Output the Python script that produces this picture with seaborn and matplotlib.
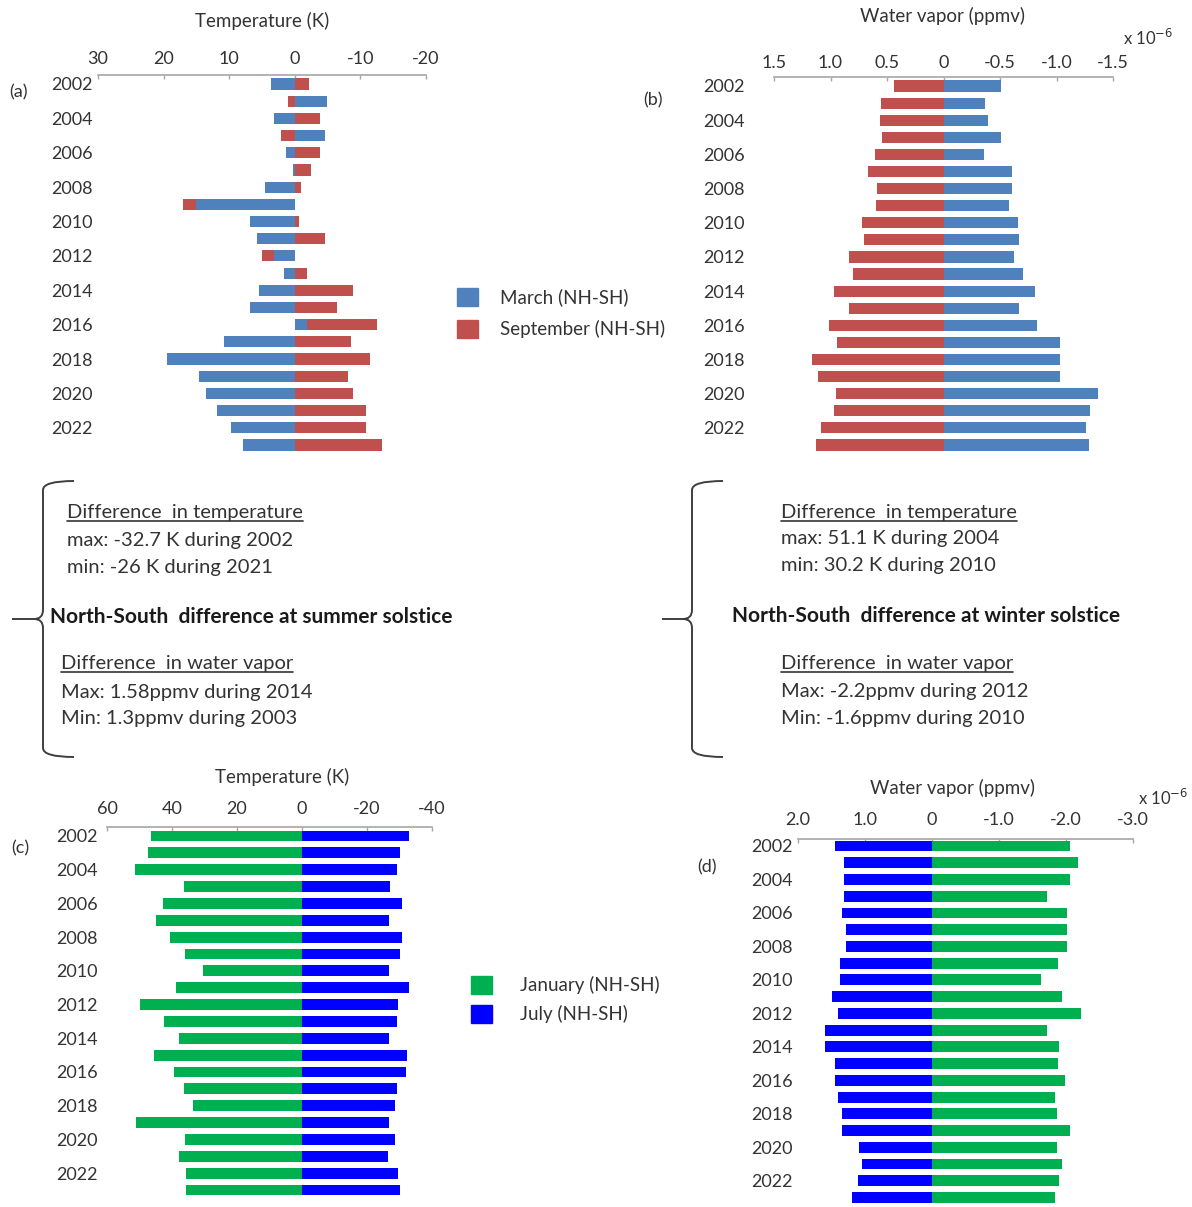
import seaborn as sns
import pandas as pd
import matplotlib.pyplot as plt
from matplotlib.patches import Patch, PathPatch
from matplotlib.path import Path
from matplotlib.lines import Line2D

sns.set_style("white")
plt.rcParams['font.family'] = ['Lato', 'DejaVu Sans']
plt.rcParams['axes.unicode_minus'] = False

years = [str(y) for y in range(2002, 2024)]

# (a) temperature, summer solstice (K)
march_t = [3.6, -4.9, 3.2, -4.6, 1.4, 0.2, 4.5, 15.1, 6.8, 5.8, 3.2,
           1.7, 5.5, 6.8, -1.8, 10.8, 19.5, 14.6, 13.6, 11.8, 9.8, 7.9]
sept_t = [-2.2, 1.1, -3.8, 2.1, -3.8, -2.4, -1.0, 1.9, -0.6, -4.6, 1.8,
          -1.8, -8.9, -6.5, -10.7, -8.5, -11.5, -8.1, -8.9, -10.9, -10.9, -13.3]
# (b) water vapor, summer solstice (x1e-6)
sept_wv = [0.44, 0.55, 0.56, 0.54, 0.61, 0.67, 0.59, 0.60, 0.72, 0.70, 0.84,
           0.80, 0.97, 0.84, 1.01, 0.94, 1.16, 1.11, 0.95, 0.97, 1.08, 1.13]
march_wv = [-0.51, -0.37, -0.39, -0.51, -0.36, -0.61, -0.61, -0.58, -0.66, -0.67, -0.62,
            -0.70, -0.81, -0.67, -0.83, -1.03, -1.03, -1.03, -1.37, -1.30, -1.26, -1.29]
# (c) temperature, winter solstice (K)
jan_t = [46.5, 47.3, 51.5, 36.4, 42.9, 45.0, 40.5, 36.1, 30.4, 38.9, 49.8,
         42.5, 38.0, 45.4, 39.3, 36.4, 33.6, 51.0, 36.1, 38.0, 35.6, 35.6]
july_t = [-32.8, -30.3, -29.1, -27.1, -30.7, -26.7, -30.7, -30.1, -26.7, -32.8, -29.4,
          -29.1, -26.7, -32.4, -32.0, -29.1, -28.7, -26.7, -28.7, -26.4, -29.4, -30.3]
# (d) water vapor, winter solstice (x1e-6)
july_wv = [1.45, 1.32, 1.32, 1.32, 1.35, 1.29, 1.28, 1.38, 1.38, 1.50, 1.40,
           1.59, 1.59, 1.45, 1.45, 1.40, 1.34, 1.35, 1.09, 1.04, 1.11, 1.20]
jan_wv = [-2.06, -2.18, -2.06, -1.72, -2.01, -2.02, -2.02, -1.88, -1.62, -1.94, -2.22,
          -1.72, -1.90, -1.88, -1.98, -1.84, -1.86, -2.06, -1.86, -1.94, -1.90, -1.84]

ticks_a = [30, 20, 10, 0, -10, -20]
ticks_b = [1.5, 1.0, 0.5, 0, -0.5, -1.0, -1.5]
labels_b = ['1.5', '1.0', '0.5', '0', '-0.5', '-1.0', '-1.5']
ticks_c = [60, 40, 20, 0, -20, -40]
ticks_d = [2.0, 1.0, 0, -1.0, -2.0, -3.0]
labels_d = ['2.0', '1.0', '0', '-1.0', '-2.0', '-3.0']

summer_notes = ['Difference  in temperature', 'max: -32.7 K during 2002', 'min: -26 K during 2021',
                'North-South  difference at summer solstice',
                'Difference  in water vapor', 'Max: 1.58ppmv during 2014', 'Min: 1.3ppmv during 2003']
winter_notes = ['Difference  in temperature', 'max: 51.1 K during 2004', 'min: 30.2 K during 2010',
                'North-South  difference at winter solstice',
                'Difference  in water vapor', 'Max: -2.2ppmv during 2012', 'Min: -1.6ppmv during 2010']

BLUE, RED = '#4F81BD', '#C0504D'
GREEN, PBLUE = '#00B050', '#0000FF'
TXT = '#333333'
W, H = 1192, 1207

fig = plt.figure(figsize=(W / 100, H / 100), dpi=100)


def fx(x):
    return x / W


def fy(y):
    return 1 - y / H


def panel(l, r, axis_y, first, last, xl, ticks, ticklabels, tpad, ypad, series):
    sp = (last - first) / 21
    bottom = last + 0.55 * sp
    ax = fig.add_axes([fx(l), fy(bottom), (r - l) / W, (bottom - axis_y) / H])
    for vals, col in series:
        df = pd.DataFrame({'year': years, 'val': vals})
        sns.barplot(data=df, x='val', y='year', order=years, orient='h', color=col,
                    saturation=1, width=0.65, ax=ax, linewidth=0)
    ax.set_xlim(xl)
    ax.set_ylim(21.55, -(first - axis_y) / sp)
    ax.xaxis.tick_top()
    ax.set_xticks(ticks)
    ax.set_xticklabels(ticklabels)
    ax.set_yticks(range(0, 22, 2))
    ax.set_yticklabels(years[::2])
    ax.tick_params(axis='x', direction='in', length=3, width=1, color='#A6A6A6',
                   pad=tpad, labelsize=13, labelcolor=TXT)
    ax.tick_params(axis='y', length=0, pad=ypad, labelsize=13, labelcolor=TXT)
    ax.set_xlabel('')
    ax.set_ylabel('')
    for s in ['left', 'right', 'bottom']:
        ax.spines[s].set_visible(False)
    ax.spines['top'].set_color('#A6A6A6')
    ax.spines['top'].set_linewidth(1.2)
    return ax


# (a) stacked: September extends beyond March when both share a sign
sept_ext = [s + m if s * m > 0 else s for m, s in zip(march_t, sept_t)]
panel(98, 426, 75, 84, 445, (30, -20), ticks_a, [str(t) for t in ticks_a], 6, 3.5,
      [(sept_ext, RED), (march_t, BLUE)])
panel(774, 1113, 77, 86, 445, (1.5, -1.5), ticks_b, labels_b, 4, 21,
      [(sept_wv, RED), (march_wv, BLUE)])
panel(107, 432, 827, 836, 1190, (60, -40), ticks_c, [str(t) for t in ticks_c], 7, 6.5,
      [(jan_t, GREEN), (july_t, PBLUE)])
panel(798, 1133, 839, 846, 1197.5, (2.0, -3.0), ticks_d, labels_d, 8, 3.5,
      [(july_wv, PBLUE), (jan_wv, GREEN)])

# axis titles, panel letters, exponent notes
for s, x, y in [('Temperature (K)', 262, 21), ('Water vapor (ppmv)', 942, 16),
                ('Temperature (K)', 282, 777), ('Water vapor (ppmv)', 953, 788)]:
    fig.text(fx(x), fy(y), s, ha='center', va='center', fontsize=13.5, color=TXT)
for s, x, y in [('(a)', 9, 92), ('(b)', 643, 100), ('(c)', 11, 848), ('(d)', 697, 867)]:
    fig.text(fx(x), fy(y), s, ha='left', va='center', fontsize=13, color=TXT)
for x, y in [(1123, 38), (1138, 798)]:
    fig.text(fx(x), fy(y), r'x 10$^{-6}$', ha='left', va='center', fontsize=12, color=TXT)

# legends
leg_kw = dict(loc='upper left', frameon=False, fontsize=13.5, handlelength=1.12,
              handleheight=1.12, borderpad=0, borderaxespad=0, labelcolor=TXT)
fig.legend(handles=[Patch(color=BLUE), Patch(color=RED)],
           labels=['March (NH-SH)', 'September (NH-SH)'],
           bbox_to_anchor=(fx(457), fy(288)), handletextpad=1.2, labelspacing=0.72, **leg_kw)
fig.legend(handles=[Patch(color=GREEN), Patch(color=PBLUE)],
           labels=['January (NH-SH)', 'July (NH-SH)'],
           bbox_to_anchor=(fx(471), fy(976)), handletextpad=1.5, labelspacing=0.55, **leg_kw)


def brace(xv, xhook, xtip, ytop, ymid, ybot):
    r = 9
    pts = [(xhook, ytop), (xv, ytop), (xv, ytop + r),
           (xv, ymid - r), (xv, ymid), (xv - r, ymid), (xtip, ymid),
           (xv - r, ymid), (xv, ymid), (xv, ymid + r),
           (xv, ybot - r), (xv, ybot), (xhook, ybot)]
    codes = [Path.MOVETO, Path.CURVE3, Path.CURVE3,
             Path.LINETO, Path.CURVE3, Path.CURVE3, Path.LINETO,
             Path.MOVETO, Path.CURVE3, Path.CURVE3,
             Path.LINETO, Path.CURVE3, Path.CURVE3]
    verts = [(fx(x), fy(y)) for x, y in pts]
    fig.add_artist(PathPatch(Path(verts, codes), transform=fig.transFigure,
                             fill=False, lw=1.4, ec='#3F3F3F'))


brace(43, 74, 12, 481, 619, 757)
brace(692, 723, 662, 481, 619, 757)

underlined = []
for notes, xs, ys in [(summer_notes, [67, 67, 67, 50, 61, 61, 61], [518, 546, 573, 623, 669, 698, 724]),
                      (winter_notes, [781, 781, 781, 732, 781, 781, 781], [518, 544, 571, 622, 669, 697, 724])]:
    for i, (s, x, y) in enumerate(zip(notes, xs, ys)):
        bold = i == 3
        t = fig.text(fx(x), fy(y), s, ha='left', va='baseline', fontsize=15 if bold else 14.5,
                     color='#1A1A1A' if bold else TXT, fontweight='bold' if bold else 'normal')
        if i in (0, 4):
            underlined.append((t, y))

fig.canvas.draw()
rend = fig.canvas.get_renderer()
for t, y in underlined:
    bb = t.get_window_extent(rend)
    fig.add_artist(Line2D([bb.x0 / W, bb.x1 / W], [fy(y + 3), fy(y + 3)],
                          transform=fig.transFigure, color=TXT, lw=1.2))

fig.savefig('out.png', dpi=100)
